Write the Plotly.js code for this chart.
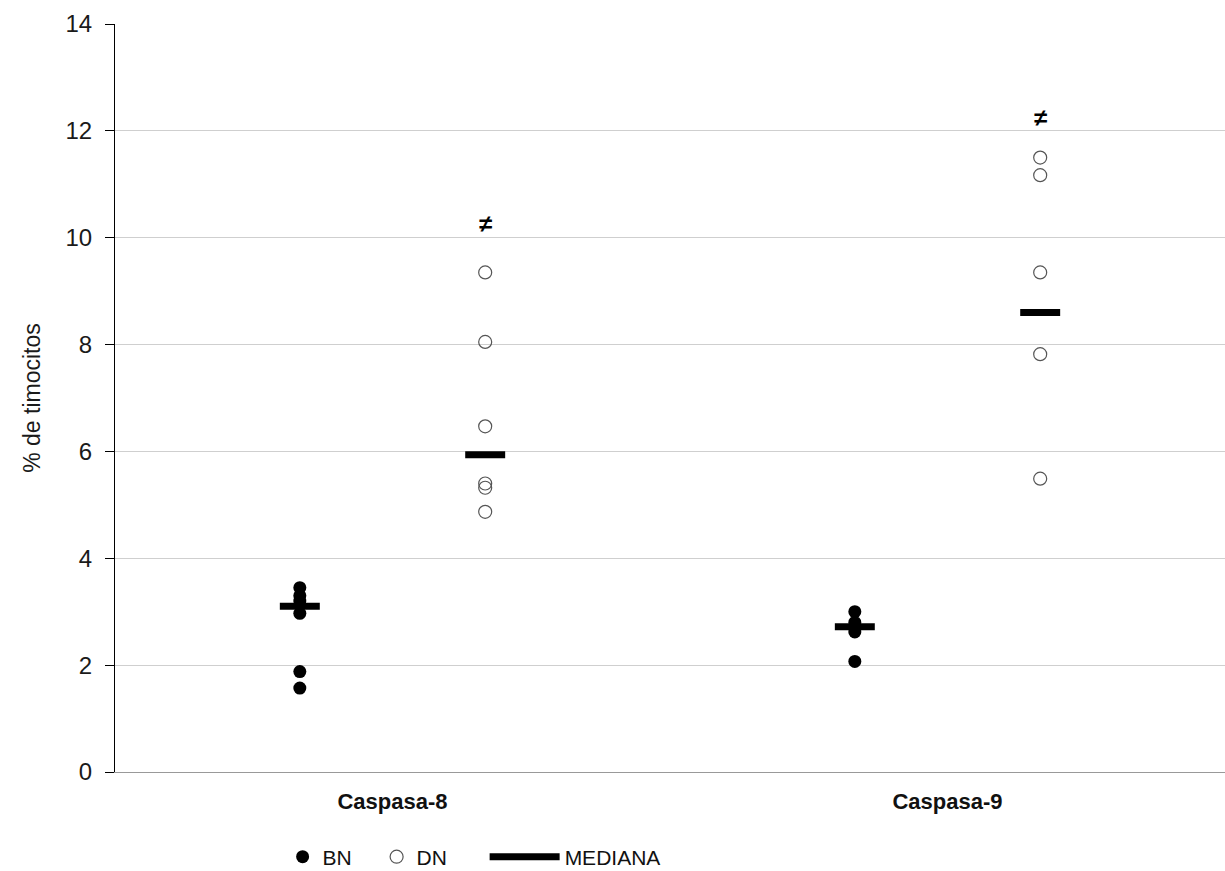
<!DOCTYPE html>
<html>
<head>
<meta charset="utf-8">
<script src="https://cdn.plot.ly/plotly-3.0.1.min.js"></script>
<style>html,body{margin:0;padding:0;background:#fff;}#chart{width:1225px;height:871px;}</style>
</head>
<body>
<div id="chart"></div>
<script>
// Data
const categories = ['Caspasa-8', 'Caspasa-9'];
const bnValues = [[3.45, 3.3, 3.2, 2.97, 1.88, 1.57], [3.0, 2.8, 2.72, 2.62, 2.07]];
const dnValues = [[9.35, 8.05, 6.47, 5.4, 5.32, 4.87], [11.5, 11.17, 9.35, 7.82, 5.49]];
const medianBN = [3.1, 2.72];
const medianDN = [5.94, 8.6];
const sigLabels = ['≠', '≠'];
const sigY = [10.27, 12.25];
const yTicks = [0, 2, 4, 6, 8, 10, 12, 14];

const OFF = 0.167, HALF = 0.036;
const FONT = 'Liberation Sans, Arial, sans-serif';

function pts(vals, off) {
  const x = [], y = [];
  vals.forEach((arr, i) => arr.forEach(v => { x.push(i + off); y.push(v); }));
  return {x, y};
}
const bn = pts(bnValues, -OFF);
const dn = pts(dnValues, OFF);

const mx = [], my = [];
categories.forEach((c, i) => {
  mx.push(i - OFF - HALF, i - OFF + HALF, null);
  my.push(medianBN[i], medianBN[i], null);
  mx.push(i + OFF - HALF, i + OFF + HALF, null);
  my.push(medianDN[i], medianDN[i], null);
});

const traces = [
  {type: 'scatter', mode: 'markers', name: 'BN', x: bn.x, y: bn.y, legend: 'legend',
   marker: {symbol: 'circle', size: 13, color: '#000', line: {width: 0}}},
  {type: 'scatter', mode: 'markers', name: 'DN', x: dn.x, y: dn.y, legend: 'legend',
   marker: {symbol: 'circle-open', size: 13, color: '#555', line: {width: 1.2}}},
  {type: 'scatter', mode: 'lines', name: 'MEDIANA', x: mx, y: my, connectgaps: false, legend: 'legend2',
   line: {color: '#000', width: 7}}
];

const annotations = categories.map((c, i) => ({
  x: i + OFF, y: sigY[i], xref: 'x', yref: 'y', text: '<b>' + sigLabels[i] + '</b>',
  showarrow: false, font: {family: FONT, size: 24, color: '#000'}
}));

const legendFont = {family: FONT, size: 21, color: '#111'};
const layout = {
  width: 1225, height: 871,
  margin: {l: 115, r: 0, t: 24, b: 99, autoexpand: false},
  paper_bgcolor: '#fff', plot_bgcolor: '#fff',
  showlegend: true,
  legend: {orientation: 'h', x: 0.151, xanchor: 'left', yref: 'container', y: 0.016, yanchor: 'middle',
           font: legendFont, itemwidth: 30, traceorder: 'normal', entrywidth: 49},
  legend2: {orientation: 'h', x: 0.333, xanchor: 'left', yref: 'container', y: 0.016, yanchor: 'middle',
           font: legendFont, itemwidth: 70},
  xaxis: {range: [-0.5, 1.5], tickvals: [0, 1], ticktext: categories.map(c => '<b>' + c + '</b>'),
          showgrid: false, zeroline: false, showline: true, linecolor: '#999', linewidth: 1,
          ticks: '', ticklabelstandoff: 10,
          tickfont: {family: FONT, size: 22, color: '#111'}, fixedrange: true},
  yaxis: {range: [0, 14], tickvals: yTicks, showgrid: true, gridcolor: '#cfcfcf', gridwidth: 1,
          zeroline: false, showline: true, linecolor: '#000', linewidth: 1,
          ticks: 'outside', ticklen: 9, tickcolor: '#000', ticklabelstandoff: 8,
          tickfont: {family: FONT, size: 24, color: '#1a1a1a'},
          title: {text: '% de timocitos', font: {family: FONT, size: 23, color: '#1a1a1a'}, standoff: 18}},
  annotations: annotations
};

Plotly.newPlot('chart', traces, layout, {displayModeBar: false, staticPlot: true});
</script>
</body>
</html>
